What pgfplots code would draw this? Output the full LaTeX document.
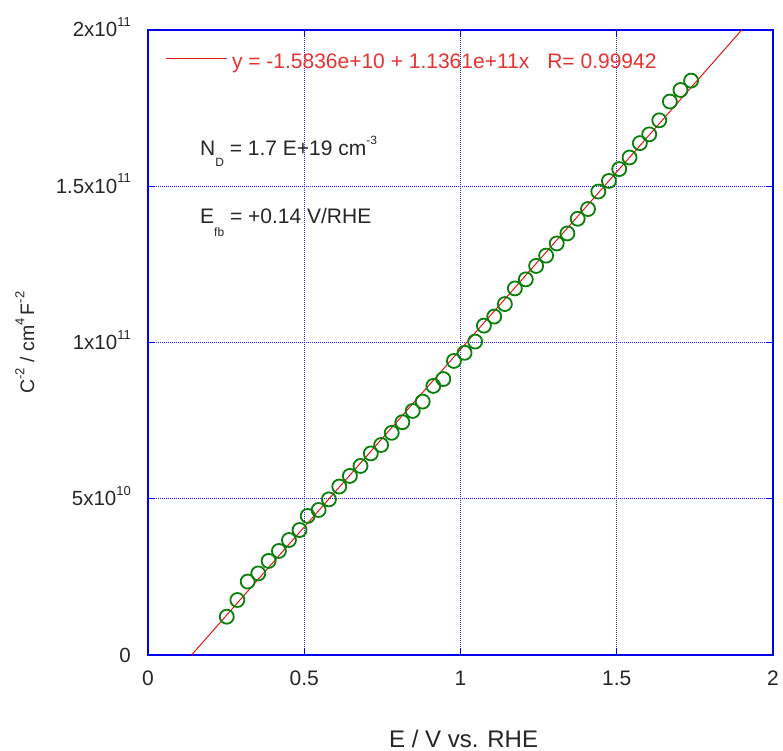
\documentclass[border=0pt]{standalone}
\usepackage{pgfplots}
\pgfplotsset{compat=1.18}
\usepackage{fontspec}
\setmainfont{Liberation Sans}
\definecolor{axblue}{RGB}{0,0,240}
\definecolor{gridblue}{RGB}{40,40,235}
\definecolor{mkgreen}{RGB}{10,128,10}
\definecolor{fitred}{RGB}{235,20,20}
\definecolor{legred}{RGB}{232,50,50}
\newcommand\sups[1]{\raisebox{0.5em}{\fontsize{13bp}{13bp}\selectfont #1}}
\newcommand\subs[2]{\raisebox{#1}{\fontsize{12bp}{12bp}\selectfont #2}}
\pgfplotstableread{
x y
0.252 1.226e10
0.286 1.76e10
0.319 2.35e10
0.353 2.61e10
0.386 3.01e10
0.419 3.33e10
0.451 3.68e10
0.485 4.00e10
0.511 4.45e10
0.546 4.64e10
0.579 4.98e10
0.612 5.39e10
0.646 5.73e10
0.680 6.05e10
0.713 6.45e10
0.746 6.72e10
0.780 7.11e10
0.814 7.45e10
0.847 7.81e10
0.879 8.11e10
0.913 8.61e10
0.945 8.83e10
0.979 9.41e10
1.013 9.67e10
1.047 1.003e11
1.075 1.054e11
1.108 1.083e11
1.142 1.123e11
1.174 1.173e11
1.209 1.202e11
1.242 1.245e11
1.274 1.278e11
1.308 1.317e11
1.342 1.349e11
1.375 1.396e11
1.408 1.427e11
1.441 1.483e11
1.475 1.517e11
1.508 1.555e11
1.541 1.592e11
1.574 1.638e11
1.604 1.666e11
1.636 1.711e11
1.670 1.771e11
1.704 1.808e11
1.738 1.838e11
}\datatable
\pgfplotstableread{
x y
0.1394 0
1.8998 2e11
}\fittable
\begin{document}
\begin{tikzpicture}
\useasboundingbox (-148bp,-96bp) rectangle (635bp,655bp);
\begin{axis}[
  at={(0,0)}, anchor=south west,
  width=625bp, height=625bp, scale only axis,
  xmin=0, xmax=2, ymin=0, ymax=2e11,
  xtick={0,0.5,1,1.5,2}, xticklabels={0,0.5,1,1.5,2},
  ytick={0,5e10,1e11,1.5e11,2e11},
  yticklabels={0,5x10\sups{10},1x10\sups{11},1.5x10\sups{11},2x10\sups{11}},
  scaled x ticks=false, scaled y ticks=false,
  grid=major,
  major grid style={gridblue, line width=0.9bp, dash pattern=on 1bp off 1bp},
  axis line style={axblue, line width=1.5bp},
  tick style={axblue, line width=1.2bp},
  major tick length=7bp, tick align=inside,
  xticklabel style={font=\fontsize{21bp}{25bp}\selectfont, anchor=north, inner sep=0pt, yshift=-16bp, text=black!85},
  yticklabel style={font=\fontsize{20.5bp}{25bp}\selectfont, anchor=base east, inner sep=0pt, xshift=-17bp, yshift=-7bp, text=black!85},
  xlabel={E / V vs. RHE},
  xlabel style={font=\fontsize{24bp}{28bp}\selectfont, at={(axis description cs:0.505,-0.1472)}, anchor=base, inner sep=0pt, text=black!85},
  ylabel={C\sups{-2} / cm\sups{4}\,F\sups{-2}},
  ylabel style={font=\fontsize{19.5bp}{24bp}\selectfont, at={(axis description cs:-0.182,0.5)}, anchor=base, inner sep=0pt, text=black!85},
  legend style={at={(axis description cs:0.0272,0.9488)}, anchor=west, draw=none, fill=none,
    inner sep=0pt, outer sep=0pt, font=\fontsize{21bp}{25bp}\selectfont, text=legred,
    nodes={inner sep=0pt}},
  legend image code/.code={\draw[fitred, line width=1bp] (0bp,0.35em) -- (61bp,0.35em);},
]
\addplot[fitred, line width=1bp] table[x=x,y=y] {\fittable};
\addlegendentry{\hspace{5bp}y = -1.5836e+10 + 1.1361e+11x\hspace{18bp}R= 0.99942}
\addplot[only marks, mark=o, mark size=7bp, mkgreen, line width=1.8bp,
  mark options={fill=white}, forget plot] table[x=x,y=y] {\datatable};
\node[anchor=base west, inner sep=0pt, font=\fontsize{21bp}{25bp}\selectfont, text=black!85]
  at (axis description cs:0.0832,0.7984) {N\subs{-11bp}{D} = 1.7 E+19 cm\raisebox{11bp}{\fontsize{12bp}{12bp}\selectfont -3}};
\node[anchor=base west, inner sep=0pt, font=\fontsize{21bp}{25bp}\selectfont, text=black!85]
  at (axis description cs:0.0832,0.6912) {E\subs{-13bp}{fb} = +0.14 V/RHE};
\end{axis}
\end{tikzpicture}
\end{document}
